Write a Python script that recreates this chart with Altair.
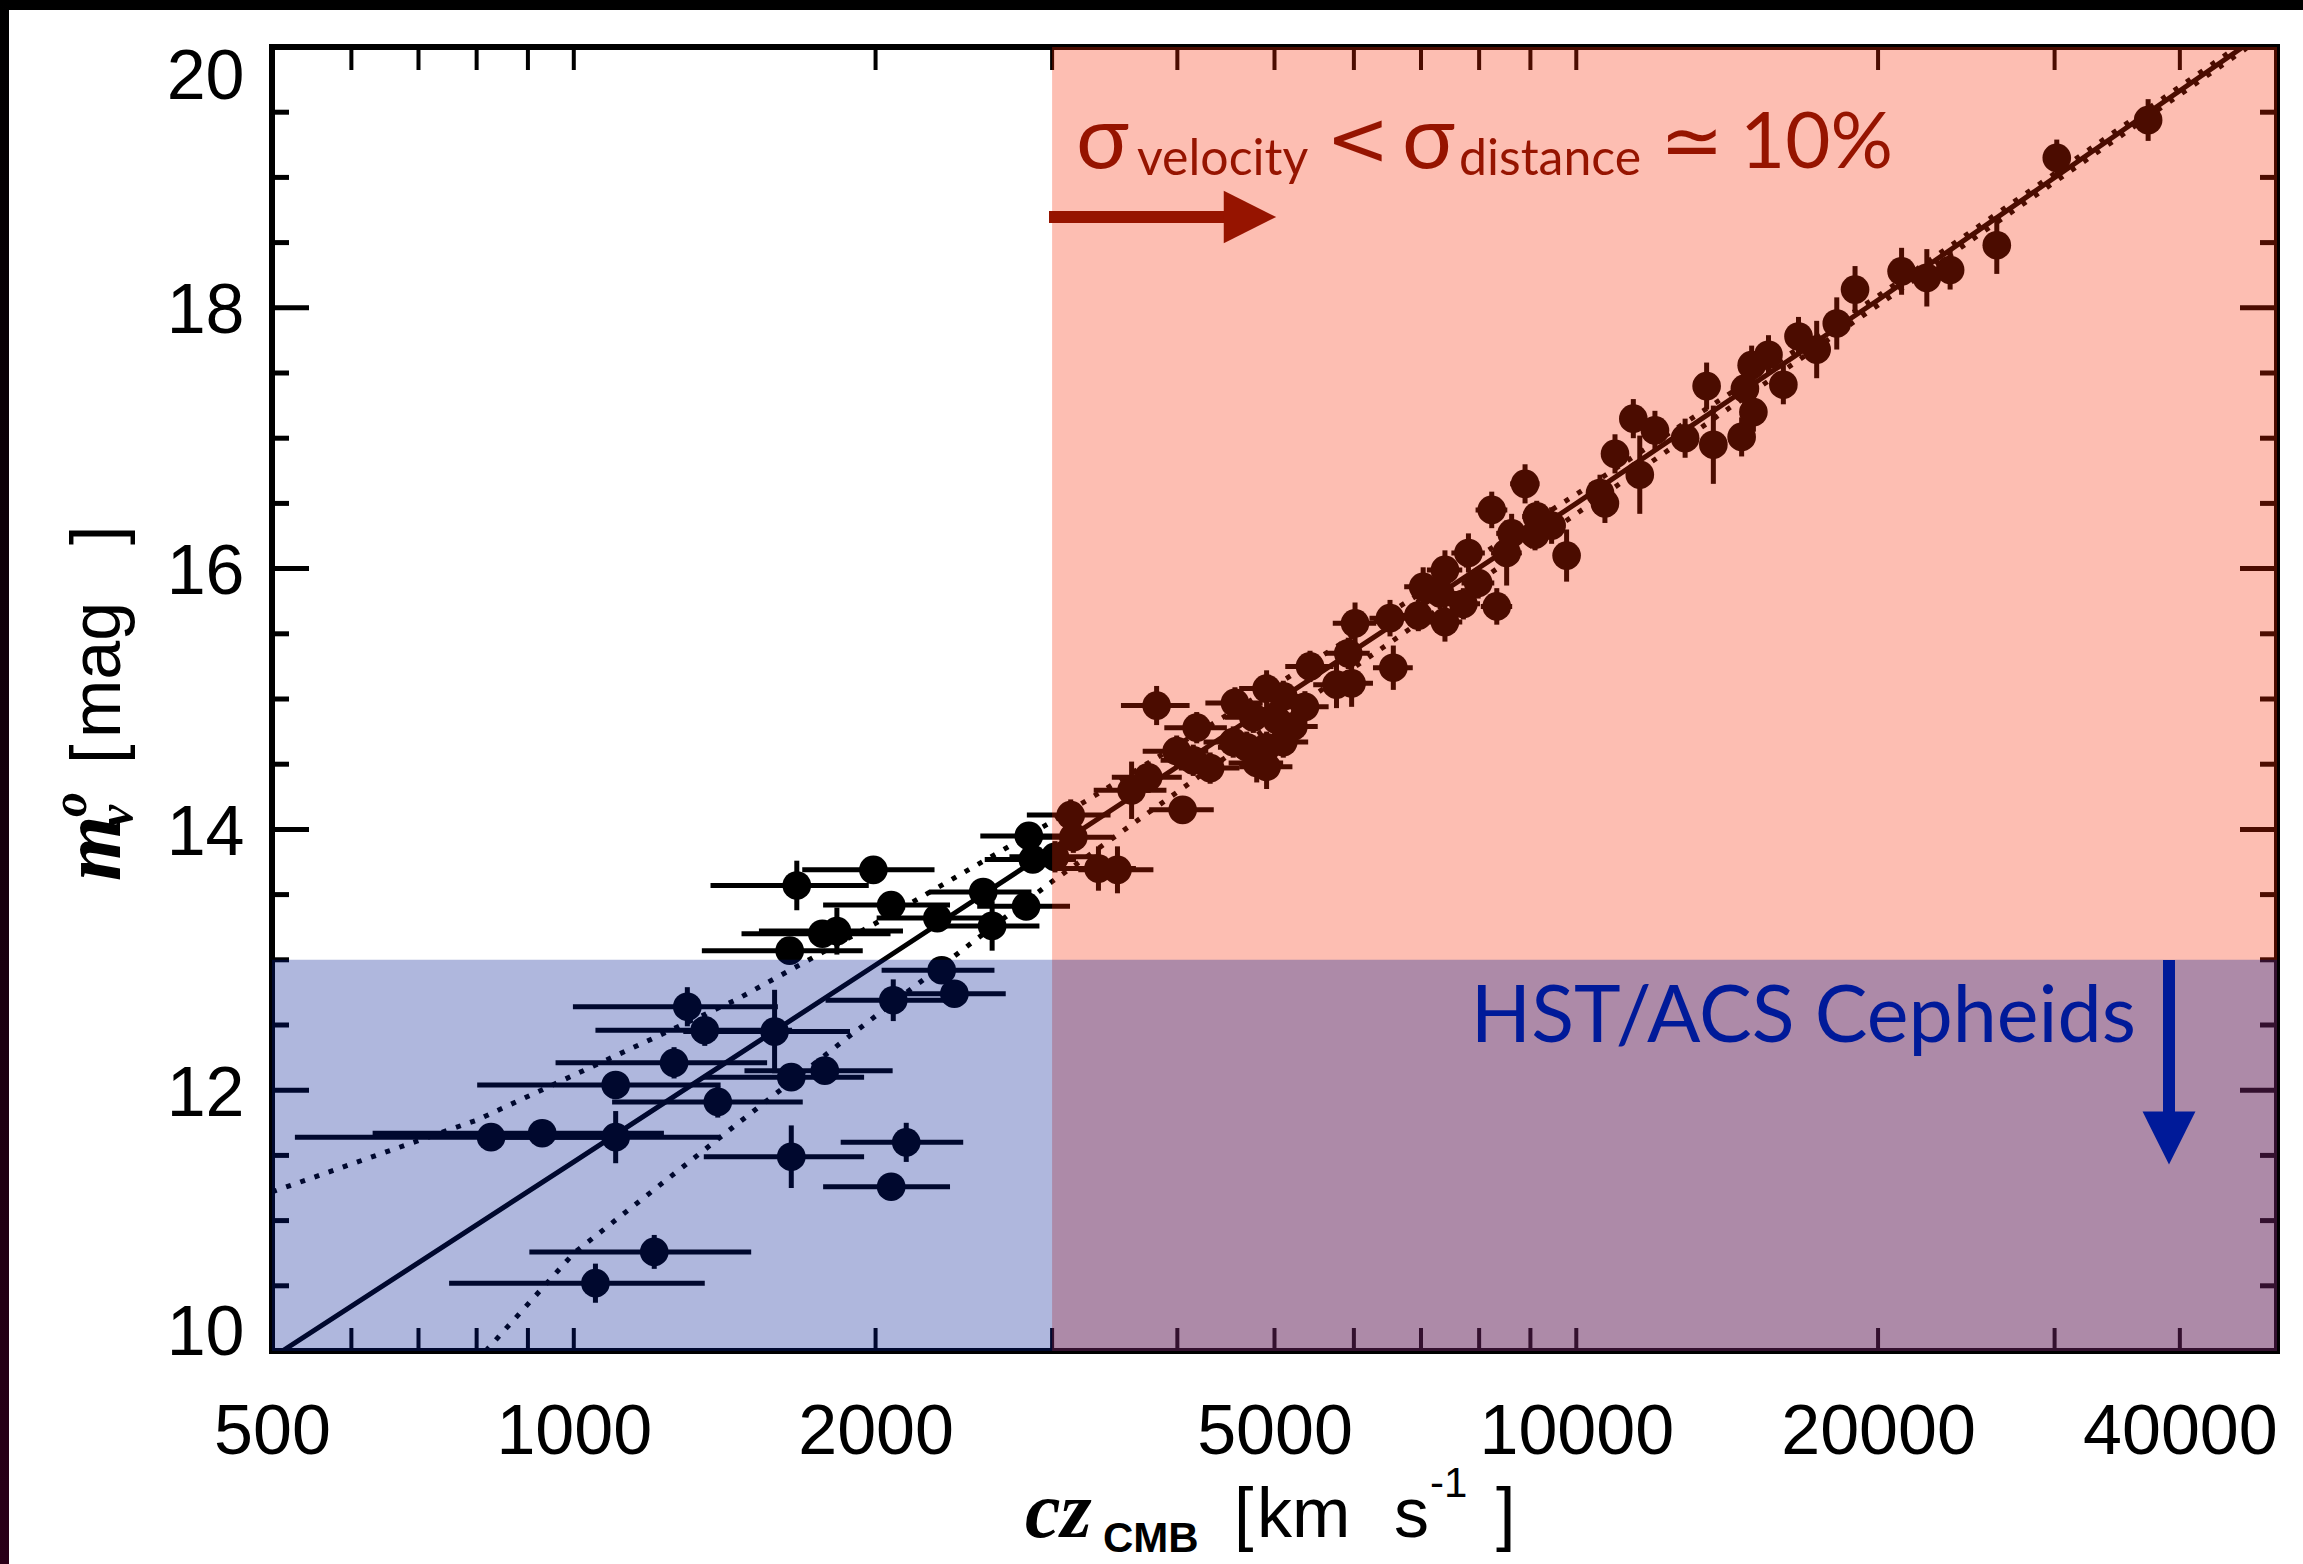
import altair as alt
import pandas as pd

# ---------------------------------------------------------------------------
# Hubble diagram: CMB-frame recession velocity vs. extinction-corrected peak
# magnitude of the SN Ia sample.
# ---------------------------------------------------------------------------
CZ = [
    827, 930, 1101, 1101, 1051, 1203, 1259, 1298, 1351, 1392,
    1586, 1648, 1648, 1780, 1642, 1669, 1770, 1830, 1990, 2073,
    2073, 2146, 2083, 2305, 2328, 2397, 2561, 2614, 2826, 2844,
    2870,
    3020, 3131, 3150, 3337, 3486, 3601, 3741, 3814, 3994, 4049,
    4149, 4182, 4313, 4566, 4548, 4763, 4910, 5102, 5362, 5025,
    5222, 4691, 4910, 5102, 4800, 4910, 5425, 5765, 5969, 5923,
    6016, 6519, 6569, 6957, 7035, 7316, 7396, 7806, 7983, 7716,
    7396, 8331, 8235, 8890, 8620, 8522, 9132, 9449, 9096, 9780,
    10560, 10680, 10930, 11570, 11400, 11980, 12840, 13490, 13700, 14620,
    14730, 14960, 15020, 15550, 16090, 16660, 17370, 18190, 18970, 21110,
    22370, 23600, 26270, 30150, 37190,
]
MAG = [
    11.64, 11.67, 11.64, 12.04, 10.52, 10.76, 12.21, 12.64, 12.46, 11.91,
    12.45, 12.10, 11.49, 12.15, 13.07, 13.57, 13.20, 13.22, 13.69, 13.42,
    11.26, 11.60, 12.69, 13.32, 12.92, 12.74, 13.52, 13.26, 13.41, 13.95,
    13.77,
    13.79, 14.11, 13.94, 13.70, 13.69, 14.30, 14.40, 14.95, 14.60, 14.15,
    14.53, 14.78, 14.47, 14.97, 14.67, 14.86, 15.08, 15.02, 14.94, 14.84,
    14.79, 14.63, 14.63, 14.67, 14.51, 14.48, 15.25, 15.11, 15.12, 15.35,
    15.58, 15.62, 15.24, 15.64, 15.86, 15.81, 15.99, 16.12, 15.89, 15.73,
    15.59, 15.71, 16.45, 16.65, 16.27, 16.12, 16.40, 16.33, 16.26, 16.10,
    16.58, 16.50, 16.88, 16.72, 17.15, 17.06, 17.00, 17.40, 16.95, 17.01,
    17.38, 17.56, 17.20, 17.64, 17.41, 17.78, 17.68, 17.88, 18.14, 18.28,
    18.23, 18.29, 18.48, 19.15, 19.44,
]
MAG_ERR = [
    0.10, 0.10, 0.20, 0.10, 0.15, 0.13, 0.12, 0.15, 0.12, 0.12,
    0.32, 0.10, 0.24, 0.10, 0.10, 0.19, 0.10, 0.18, 0.10, 0.10,
    0.10, 0.15, 0.16, 0.10, 0.10, 0.10, 0.10, 0.19, 0.10, 0.10,
    0.10,
    0.12, 0.12, 0.12, 0.17, 0.18, 0.22, 0.12, 0.15, 0.12, 0.10,
    0.12, 0.12, 0.12, 0.12, 0.12, 0.12, 0.14, 0.12, 0.12, 0.12,
    0.12, 0.12, 0.12, 0.12, 0.15, 0.17, 0.12, 0.18, 0.18, 0.12,
    0.16, 0.14, 0.17, 0.12, 0.15, 0.12, 0.15, 0.15, 0.12, 0.12,
    0.15, 0.14, 0.14, 0.15, 0.15, 0.25, 0.12, 0.14, 0.12, 0.20,
    0.14, 0.15, 0.15, 0.30, 0.15, 0.15, 0.15, 0.18, 0.30, 0.15,
    0.20, 0.15, 0.15, 0.15, 0.15, 0.15, 0.22, 0.20, 0.18, 0.18,
    0.22, 0.15, 0.22, 0.14, 0.16,
]
CZ_ERR = 300  # km/s, adopted peculiar-velocity uncertainty

# Hubble-law fit and the +/- velocity-error envelope
FIT_CZ = [512, 1000, 2000, 5000, 10000, 20000, 46240]
FIT_MAG = [10.00, 11.45, 12.96, 14.97, 16.50, 18.06, 20.00]
UPPER_CZ = [500, 800, 1449, 2000, 3000, 5000, 10000, 20000, 46000]
UPPER_MAG = [11.22, 11.77, 12.69, 13.28, 14.06, 15.10, 16.57, 18.09, 20.02]
LOWER_CZ = [817, 1000, 1449, 1902, 3000, 5000, 10000, 20000, 46600]
LOWER_MAG = [10.00, 10.75, 11.73, 12.44, 13.60, 14.82, 16.42, 18.02, 19.99]

# Shaded regimes
VEL_REGION_CZ = [3000, 50000]
VEL_REGION_MAG = [10, 20]
CEPH_REGION_CZ = [500, 50000]
CEPH_REGION_MAG = [10, 13]

# Axis ticks (IDL style, drawn inside the frame)
X_LABELS = [500, 1000, 2000, 5000, 10000, 20000, 40000]
X_TICKS = [600, 700, 800, 900, 1000, 2000, 3000, 4000, 5000, 6000, 7000,
           8000, 9000, 10000, 20000, 30000, 40000]
Y_MAJOR = [10, 12, 14, 16, 18, 20]
Y_MINOR = [10.5, 11, 11.5, 12.5, 13, 13.5, 14.5, 15, 15.5, 16.5, 17,
           17.5, 18.5, 19, 19.5]

W, H = 2005, 1304
INK = "black"
RED_TXT = "#961400"
BLUE_TXT = "#001A99"
SANS = "Liberation Sans"
ANNO = "Lato, Noto Sans, DejaVu Sans"
ITAL = "Liberation Serif"

pts = pd.DataFrame({"cz": CZ, "m": MAG, "e": MAG_ERR})
pts["lo"] = pts["cz"] - CZ_ERR
pts["hi"] = pts["cz"] + CZ_ERR
pts["mlo"] = pts["m"] - pts["e"]
pts["mhi"] = pts["m"] + pts["e"]

xs = alt.Scale(type="log", domain=[500, 50000], nice=False)
ys = alt.Scale(domain=[10, 20], nice=False, zero=False)

x_axis = alt.Axis(values=X_LABELS, format="d", ticks=False, tickSize=0,
                  domain=False, grid=False, labelFont=SANS, labelFontSize=70,
                  labelColor=INK, labelPadding=47, labelFlush=False,
                  labelLimit=500, labelOverlap=False, title=None, zindex=1)
y_axis = alt.Axis(values=Y_MAJOR, format="d", ticks=False, tickSize=0,
                  domain=False, grid=False, labelFont=SANS, labelFontSize=70,
                  labelColor=INK, labelPadding=28, labelFlush=False,
                  labelLimit=500, labelOverlap=False, title=None, zindex=1,
                  labelOffset={"condition": [
                      {"test": "datum.value == 20", "value": 30},
                      {"test": "datum.value == 10", "value": -18}],
                      "value": 4})

base = alt.Chart(pts)

hbars = base.mark_rule(strokeWidth=5, color=INK).encode(
    x=alt.X("lo:Q", scale=xs, axis=x_axis),
    x2="hi:Q",
    y=alt.Y("m:Q", scale=ys, axis=y_axis),
)
vbars = base.mark_rule(strokeWidth=5, color=INK).encode(
    x=alt.X("cz:Q", scale=xs), y=alt.Y("mlo:Q", scale=ys), y2="mhi:Q")
dots = base.mark_point(shape="circle", filled=True, size=820, opacity=1,
                       color=INK).encode(
    x=alt.X("cz:Q", scale=xs), y=alt.Y("m:Q", scale=ys))


def curve(cz, mag, dash=None):
    df = pd.DataFrame({"cz": cz, "m": mag})
    kw = dict(strokeWidth=5, color=INK, clip=True)
    if dash:
        kw["strokeDash"] = dash
    return alt.Chart(df).mark_line(**kw).encode(
        x=alt.X("cz:Q", scale=xs), y=alt.Y("m:Q", scale=ys))


fit = curve(FIT_CZ, FIT_MAG)
upper = curve(UPPER_CZ, UPPER_MAG, [5, 10])
lower = curve(LOWER_CZ, LOWER_MAG, [5, 10])

xt = alt.Chart(pd.DataFrame({"v": X_TICKS}))
x_ticks_bot = xt.mark_rule(strokeWidth=4, color=INK).encode(
    x=alt.X("v:Q", scale=xs), y=alt.value(H), y2=alt.value(H - 23))
x_ticks_top = xt.mark_rule(strokeWidth=4, color=INK).encode(
    x=alt.X("v:Q", scale=xs), y=alt.value(0), y2=alt.value(23))
ymj = alt.Chart(pd.DataFrame({"v": Y_MAJOR}))
ymn = alt.Chart(pd.DataFrame({"v": Y_MINOR}))
y_ticks = [
    ymj.mark_rule(strokeWidth=5, color=INK).encode(
        y=alt.Y("v:Q", scale=ys), x=alt.value(0), x2=alt.value(37)),
    ymj.mark_rule(strokeWidth=5, color=INK).encode(
        y=alt.Y("v:Q", scale=ys), x=alt.value(W), x2=alt.value(W - 37)),
    ymn.mark_rule(strokeWidth=5, color=INK).encode(
        y=alt.Y("v:Q", scale=ys), x=alt.value(0), x2=alt.value(17)),
    ymn.mark_rule(strokeWidth=5, color=INK).encode(
        y=alt.Y("v:Q", scale=ys), x=alt.value(W), x2=alt.value(W - 17)),
]


def region(czr, magr, color, alpha):
    df = pd.DataFrame({"x0": [czr[0]], "x1": [czr[1]],
                       "y0": [magr[0]], "y1": [magr[1]]})
    return alt.Chart(df).mark_rect(color=color, fillOpacity=alpha,
                                   strokeWidth=0).encode(
        x=alt.X("x0:Q", scale=xs), x2="x1:Q",
        y=alt.Y("y0:Q", scale=ys), y2="y1:Q")


vel_shade = region(VEL_REGION_CZ, VEL_REGION_MAG, "#F82800", 0.30)
ceph_shade = region(CEPH_REGION_CZ, CEPH_REGION_MAG, "#001992", 0.314)

one = pd.DataFrame({"k": [0]})


def label(text, x, y, size, color=INK, font=SANS, style="normal",
          weight="normal", angle=0, align="left", baseline="alphabetic"):
    return alt.Chart(one).mark_text(
        text=text, font=font, fontSize=size, fontStyle=style,
        fontWeight=weight, color=color, angle=angle, align=align,
        baseline=baseline).encode(x=alt.value(x), y=alt.value(y))


texts = [
    # velocity-error annotation
    label("σ", 804, 121, 88, RED_TXT, ANNO),
    label("velocity", 865, 128, 50, RED_TXT, ANNO),
    label("<", 1054, 118, 76, RED_TXT, "DejaVu Sans"),
    label("σ", 1130, 121, 88, RED_TXT, ANNO),
    label("distance", 1187, 128, 50, RED_TXT, ANNO),
    label("≃", 1388, 120, 76, RED_TXT, "DejaVu Sans"),
    label("10%", 1468, 121, 78, RED_TXT, ANNO),
    # Cepheid annotation
    label("HST/ACS Cepheids", 1864, 995, 79, BLUE_TXT, ANNO, align="right"),
    # x title
    label("cz", 753, 1490, 80, INK, ITAL, "italic", "bold"),
    label("CMB", 831, 1505, 42, INK, SANS, weight="bold"),
    label("[", 962, 1490, 70),
    label("km", 985, 1490, 70),
    label("s", 1122, 1490, 70),
    label("-1", 1158, 1450, 42),
    label("]", 1224, 1490, 70),
    # y title (rotated, reading bottom to top)
    label("m", -152, 834, 84, INK, ITAL, "italic", "bold", angle=270),
    label("v", -140, 780, 50, INK, ITAL, "italic", "bold", angle=270),
    label("o", -186, 770, 50, INK, ITAL, "italic", "bold", angle=270),
    label("[", -152, 717, 70, angle=270),
    label("mag", -152, 691, 70, angle=270),
    label("]", -152, 498, 70, angle=270),
]

# arrows
red_shaft = alt.Chart(one).mark_rule(strokeWidth=12, color=RED_TXT).encode(
    x=alt.value(777), x2=alt.value(962), y=alt.value(170))
red_head = alt.Chart(one).mark_point(
    shape="M-1,-1L1,0L-1,1Z", size=2750, filled=True, opacity=1,
    color=RED_TXT).encode(x=alt.value(978), y=alt.value(170))
blue_shaft = alt.Chart(one).mark_rule(strokeWidth=12, color=BLUE_TXT).encode(
    x=alt.value(1897), y=alt.value(913), y2=alt.value(1075))
blue_head = alt.Chart(one).mark_point(
    shape="M-1,-1L0,1L1,-1Z", size=2800, filled=True, opacity=1,
    color=BLUE_TXT).encode(x=alt.value(1897), y=alt.value(1091))

# slide border strips outside the frame
top_band = alt.Chart(one).mark_rect(color="black").encode(
    x=alt.value(-272), x2=alt.value(2031), y=alt.value(-47), y2=alt.value(-37))
left_band = alt.Chart(one).mark_rect(
    color={"gradient": "linear", "x1": 0, "y1": 0, "x2": 0, "y2": 1,
           "stops": [{"offset": 0, "color": "#000000"},
                     {"offset": 1, "color": "#2a0018"}]}).encode(
    x=alt.value(-272), x2=alt.value(-263), y=alt.value(-47),
    y2=alt.value(1517))

chart = alt.layer(
    hbars, vbars, dots, fit, upper, lower,
    x_ticks_bot, x_ticks_top, *y_ticks,
    vel_shade, ceph_shade,
    red_shaft, red_head, blue_shaft, blue_head,
    *texts, top_band, left_band,
).properties(
    width=W, height=H,
    padding={"left": 272, "top": 47, "right": 26, "bottom": 213},
    autosize=alt.AutoSizeParams(type="none"),
    background="white",
).configure_view(
    stroke="black", strokeWidth=6, fill="white"
)

chart.save("out.html", embed_options={"renderer": "svg", "actions": False})
